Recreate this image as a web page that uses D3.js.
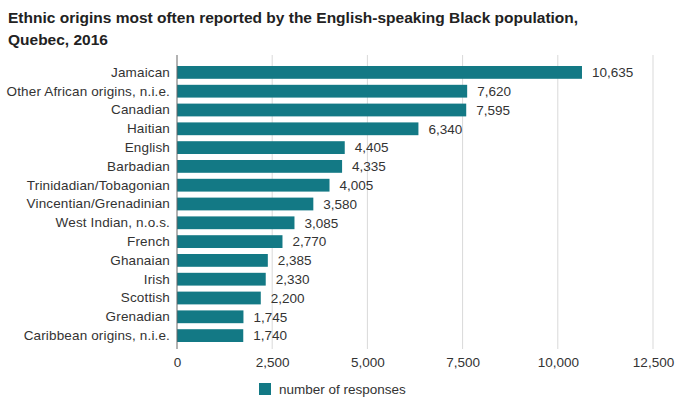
<!DOCTYPE html>
<html>
<head>
<meta charset="utf-8">
<script src="https://cdn.jsdelivr.net/npm/d3@7"></script>
<style>
  html, body { margin: 0; padding: 0; background: #fff; }
  svg { display: block; }
</style>
</head>
<body>
<svg id="chart" width="675" height="398"></svg>
<script>
const categories = [
  "Jamaican", "Other African origins, n.i.e.", "Canadian", "Haitian", "English",
  "Barbadian", "Trinidadian/Tobagonian", "Vincentian/Grenadinian", "West Indian, n.o.s.",
  "French", "Ghanaian", "Irish", "Scottish", "Grenadian", "Caribbean origins, n.i.e."
];
const responses = [10635, 7620, 7595, 6340, 4405, 4335, 4005, 3580, 3085, 2770, 2385, 2330, 2200, 1745, 1740];
const xTicks = [0, 2500, 5000, 7500, 10000, 12500];
const seriesName = "number of responses";

const svg = d3.select("#chart");
const fontFamily = "'Liberation Sans', Arial, sans-serif";
const barColor = "#137985";
const labelSize = 13.5;

// Title
const title = svg.append("text")
  .attr("font-family", fontFamily)
  .attr("font-size", 15.5)
  .attr("font-weight", "bold")
  .attr("fill", "#222");
title.append("tspan").attr("x", 8).attr("y", 23)
  .text("Ethnic origins most often reported by the English-speaking Black population,");
title.append("tspan").attr("x", 8).attr("y", 45).text("Quebec, 2016");

const x = d3.scaleLinear().domain([0, 12500]).range([177, 653]);
const y = d3.scaleBand().domain(categories).range([63, 345]).paddingInner(0.32).paddingOuter(0.16);

// Vertical gridlines
svg.append("g").selectAll("line")
  .data(xTicks.slice(1))
  .join("line")
  .attr("x1", d => x(d)).attr("x2", d => x(d))
  .attr("y1", 55).attr("y2", 349)
  .attr("stroke", "#d9d9d9").attr("stroke-width", 1);

// Bars
svg.append("g").selectAll("rect")
  .data(categories)
  .join("rect")
  .attr("x", x(0))
  .attr("y", d => y(d))
  .attr("width", (d, i) => x(responses[i]) - x(0))
  .attr("height", y.bandwidth())
  .attr("fill", barColor);

// Value labels
svg.append("g").selectAll("text")
  .data(categories)
  .join("text")
  .attr("x", (d, i) => x(responses[i]) + 10)
  .attr("y", d => y(d) + y.bandwidth() / 2)
  .attr("dy", "0.36em")
  .attr("font-family", fontFamily)
  .attr("font-size", labelSize)
  .attr("fill", "#333")
  .text((d, i) => d3.format(",")(responses[i]));

// Category axis
const yAxis = svg.append("g")
  .attr("transform", `translate(${x(0)},0)`)
  .call(d3.axisLeft(y).tickSize(0).tickPadding(7));
yAxis.select(".domain").remove();
yAxis.append("line")
  .attr("x1", 0).attr("x2", 0).attr("y1", 55).attr("y2", 349)
  .attr("stroke", "#666").attr("stroke-width", 1);
yAxis.selectAll("text")
  .attr("font-family", fontFamily)
  .attr("font-size", labelSize)
  .attr("letter-spacing", 0.15)
  .attr("fill", "#333");

// Value axis labels
const xAxis = svg.append("g")
  .attr("transform", "translate(0,349)")
  .call(d3.axisBottom(x).tickValues(xTicks).tickSize(0).tickPadding(8).tickFormat(d3.format(",")));
xAxis.select(".domain").remove();
xAxis.selectAll("text")
  .attr("font-family", fontFamily)
  .attr("font-size", labelSize)
  .attr("fill", "#333");

// Legend
const legend = svg.append("g").attr("transform", "translate(259,383)");
legend.append("rect").attr("width", 12).attr("height", 12).attr("fill", barColor);
legend.append("text")
  .attr("x", 20).attr("y", 6).attr("dy", "0.36em")
  .attr("font-family", fontFamily)
  .attr("font-size", labelSize)
  .attr("fill", "#333")
  .text(seriesName);
</script>
</body>
</html>
